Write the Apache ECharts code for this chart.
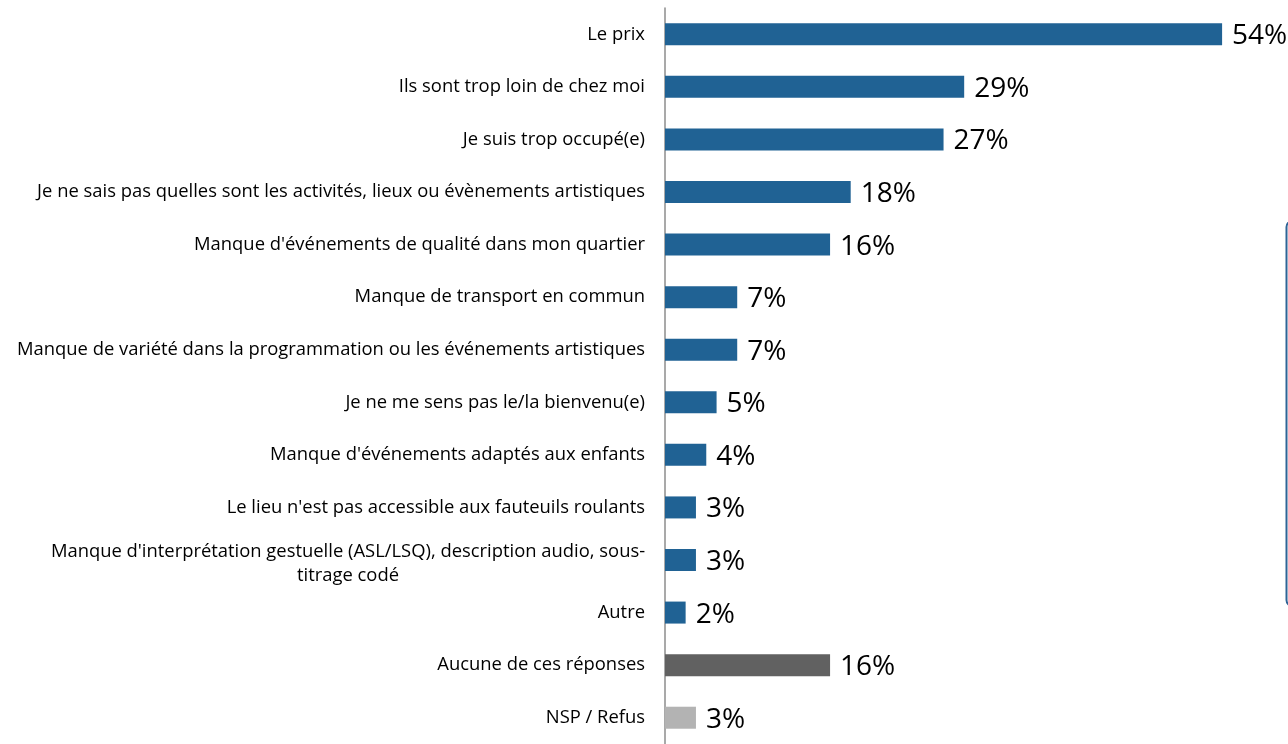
<!DOCTYPE html>
<html><head><meta charset="utf-8">
<script src="https://cdn.jsdelivr.net/npm/echarts@6/dist/echarts.min.js"></script>
<style>html,body{margin:0;padding:0;background:#fff}#c{width:1288px;height:744px}</style>
</head><body><div id="c"></div>
<script>
const categories = [
  "Le prix",
  "Ils sont trop loin de chez moi",
  "Je suis trop occupé(e)",
  "Je ne sais pas quelles sont les activités, lieux ou évènements artistiques",
  "Manque d'événements de qualité dans mon quartier",
  "Manque de transport en commun",
  "Manque de variété dans la programmation ou les événements artistiques",
  "Je ne me sens pas le/la bienvenu(e)",
  "Manque d'événements adaptés aux enfants",
  "Le lieu n'est pas accessible aux fauteuils roulants",
  "Manque d'interprétation gestuelle (ASL/LSQ), description audio, sous-\ntitrage codé",
  "Autre",
  "Aucune de ces réponses",
  "NSP / Refus"
];
const values = [54, 29, 27, 18, 16, 7, 7, 5, 4, 3, 3, 2, 16, 3];
const colors = ["#206294","#206294","#206294","#206294","#206294","#206294","#206294","#206294","#206294","#206294","#206294","#206294","#616161","#b3b3b3"];

const chart = echarts.init(document.getElementById('c'));
chart.setOption({
  animation: false,
  grid: {left: 665, right: 4, top: 8, bottom: -4},
  xAxis: {type: 'value', min: 0, max: 60, show: false},
  yAxis: {
    type: 'category', data: categories, inverse: true,
    axisLine: {show: true, lineStyle: {color: '#8c8c8c', width: 1.5}},
    axisTick: {show: false},
    axisLabel: {
      color: '#000', fontFamily: 'Open Sans', fontSize: 18.4, margin: 20,
      formatter: function (v) {
        if (v.indexOf('\n') >= 0) return '{w|' + v + '}';
        return v;
      },
      rich: {w: {width: 594, align: 'center', fontFamily: 'Open Sans', fontSize: 18.4, color: '#000', lineHeight: 24, padding: [8, 0, 0, 0]}}
    }
  },
  series: [{
    type: 'bar', barWidth: 22,
    data: values.map((v, i) => ({value: v, itemStyle: {color: colors[i]}})),
    label: {show: true, position: 'right', distance: 10, offset: [0, 2], formatter: '{c}%', color: '#000', fontSize: 28, fontFamily: 'Open Sans'}
  }],
  graphic: [{type: 'rect', shape: {x: 1286.5, y: 221, width: 200, height: 385, r: 6}, style: {fill: 'none', stroke: '#2e6496', lineWidth: 2}}]
});
</script></body></html>
